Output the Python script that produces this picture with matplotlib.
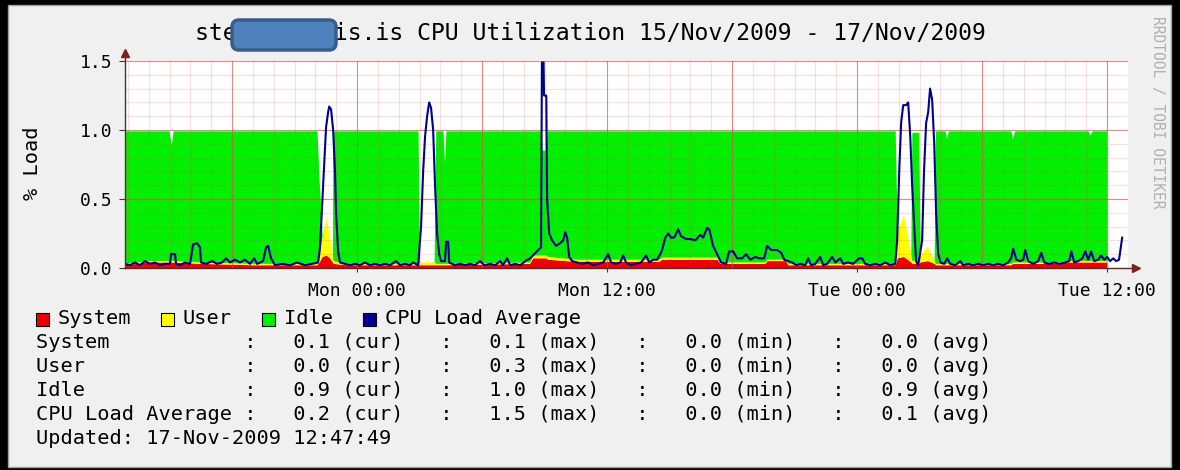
import numpy as np
import matplotlib.pyplot as plt
from matplotlib.patches import Rectangle, FancyBboxPatch
from matplotlib.transforms import IdentityTransform

plt.rcParams['font.family'] = ['DejaVu Sans Mono']

W, H = 1180, 470

# время в часах от Mon 00:00 (15/Nov -> 17/Nov 2009)
# (час, system, user, idle)
stack_pts = [
    (-11.14, 0.02, 0.01, 0.96), (-10.0, 0.04, 0.01, 0.94), (-9.0, 0.04, 0.01, 0.94),
    (-8.9, 0.04, 0.01, 0.84), (-8.8, 0.04, 0.01, 0.94), (-7.5, 0.03, 0.01, 0.95),
    (-5.0, 0.02, 0.01, 0.96), (-1.9, 0.02, 0.01, 0.96), (-1.8, 0.04, 0.05, 0.55),
    (-1.65, 0.08, 0.15, 0.0), (-1.45, 0.09, 0.28, 0.0), (-1.3, 0.07, 0.15, 0.0),
    (-1.16, 0.04, 0.04, 0.0), (-1.14, 0.03, 0.02, 0.94), (-0.5, 0.02, 0.01, 0.96),
    (2.95, 0.02, 0.01, 0.96), (3.02, 0.02, 0.02, 0.0), (3.72, 0.02, 0.02, 0.0),
    (3.8, 0.02, 0.01, 0.96), (4.15, 0.02, 0.01, 0.96), (4.22, 0.02, 0.01, 0.73),
    (4.29, 0.02, 0.01, 0.96), (8.3, 0.03, 0.01, 0.95), (8.45, 0.07, 0.02, 0.90),
    (8.85, 0.07, 0.02, 0.90), (8.9, 0.07, 0.02, 0.76), (9.1, 0.07, 0.02, 0.76),
    (9.15, 0.06, 0.02, 0.91), (10.5, 0.045, 0.015, 0.93),
    (14.5, 0.045, 0.015, 0.93), (14.65, 0.06, 0.015, 0.915), (17.3, 0.06, 0.015, 0.915),
    (17.45, 0.03, 0.01, 0.95), (19.6, 0.03, 0.01, 0.95), (19.7, 0.05, 0.01, 0.93),
    (20.6, 0.05, 0.01, 0.93), (20.7, 0.02, 0.01, 0.96), (25.85, 0.02, 0.01, 0.96),
    (25.95, 0.07, 0.2, 0.0), (26.25, 0.08, 0.3, 0.0), (26.6, 0.04, 0.06, 0.0),
    (26.65, 0.03, 0.02, 0.93), (26.98, 0.03, 0.02, 0.93), (27.05, 0.04, 0.06, 0.0),
    (27.4, 0.05, 0.1, 0.0), (27.72, 0.03, 0.02, 0.0), (27.78, 0.02, 0.01, 0.96),
    (28.25, 0.02, 0.01, 0.96), (28.32, 0.02, 0.01, 0.9), (28.4, 0.02, 0.01, 0.96),
    (31.4, 0.02, 0.01, 0.96), (31.49, 0.03, 0.01, 0.89), (31.58, 0.03, 0.01, 0.95),
    (33.5, 0.03, 0.01, 0.95), (34.2, 0.04, 0.01, 0.94), (35.1, 0.04, 0.01, 0.94),
    (35.2, 0.04, 0.01, 0.91), (35.3, 0.04, 0.01, 0.94), (36.0, 0.04, 0.01, 0.94),
]

# (час, CPU load average)
load_pts = [
    (-11.14, 0.03), (-10.9, 0.02), (-10.66, 0.04), (-10.42, 0.02), (-10.18, 0.05),
    (-9.94, 0.03), (-9.7, 0.04), (-9.46, 0.02), (-9.22, 0.03), (-8.98, 0.03),
    (-8.93, 0.10), (-8.74, 0.10), (-8.69, 0.03), (-8.5, 0.02), (-8.26, 0.04),
    (-8.02, 0.03), (-7.87, 0.17), (-7.68, 0.18), (-7.54, 0.15), (-7.49, 0.04),
    (-7.25, 0.03), (-6.96, 0.05), (-6.72, 0.03), (-6.48, 0.04), (-6.29, 0.07),
    (-6.1, 0.04), (-5.86, 0.06), (-5.62, 0.04), (-5.38, 0.06), (-5.14, 0.03),
    (-4.94, 0.07), (-4.8, 0.03), (-4.51, 0.05), (-4.37, 0.15), (-4.27, 0.16),
    (-4.13, 0.07), (-3.94, 0.02), (-3.6, 0.03), (-3.22, 0.02), (-2.88, 0.04),
    (-2.5, 0.02), (-2.16, 0.03), (-1.87, 0.04),
    (-1.78, 0.15), (-1.68, 0.45), (-1.58, 0.75), (-1.49, 1.02), (-1.39, 1.13),
    (-1.34, 1.17), (-1.25, 1.15), (-1.15, 1.0), (-1.06, 0.7), (-1.01, 0.4),
    (-0.91, 0.12), (-0.82, 0.04),
    (-0.58, 0.03), (-0.34, 0.02), (-0.1, 0.03), (0.14, 0.02), (0.38, 0.04),
    (0.62, 0.02), (0.86, 0.03), (1.1, 0.02), (1.34, 0.03), (1.58, 0.02),
    (1.87, 0.05), (2.06, 0.02), (2.3, 0.03), (2.54, 0.02), (2.69, 0.04), (2.93, 0.02),
    (3.07, 0.3), (3.17, 0.7), (3.26, 0.95), (3.36, 1.1), (3.46, 1.2), (3.55, 1.16),
    (3.65, 1.0), (3.74, 0.6), (3.84, 0.25), (3.94, 0.1), (4.03, 0.05), (4.22, 0.05),
    (4.27, 0.19), (4.37, 0.19), (4.42, 0.04),
    (4.7, 0.02), (4.94, 0.03), (5.18, 0.02), (5.42, 0.03), (5.66, 0.02), (5.9, 0.05),
    (6.1, 0.02), (6.39, 0.03), (6.62, 0.02), (6.87, 0.05), (7.0, 0.02), (7.2, 0.07),
    (7.35, 0.02), (7.59, 0.03), (7.83, 0.02), (8.07, 0.05), (8.31, 0.07), (8.5, 0.10),
    (8.69, 0.13), (8.83, 0.15),
    (8.87, 1.49), (8.95, 1.49), (8.97, 1.25), (9.08, 1.25), (9.12, 0.5), (9.22, 0.25),
    (9.36, 0.2), (9.55, 0.16), (9.75, 0.18), (9.89, 0.2), (9.99, 0.26), (10.08, 0.22),
    (10.18, 0.08), (10.32, 0.05),
    (10.56, 0.04), (10.8, 0.03), (11.09, 0.04), (11.33, 0.02), (11.57, 0.03),
    (11.81, 0.04), (12.05, 0.10), (12.19, 0.04), (12.43, 0.03), (12.63, 0.04),
    (12.77, 0.09), (12.91, 0.04), (13.15, 0.02), (13.39, 0.03), (13.63, 0.04),
    (13.87, 0.09), (14.02, 0.04), (14.21, 0.06), (14.4, 0.06), (14.55, 0.10),
    (14.64, 0.13), (14.79, 0.22), (14.93, 0.25), (15.07, 0.22), (15.22, 0.22),
    (15.41, 0.28), (15.55, 0.23), (15.79, 0.21), (15.99, 0.21), (16.23, 0.20),
    (16.47, 0.24), (16.61, 0.22), (16.8, 0.29), (16.9, 0.28), (17.09, 0.16),
    (17.28, 0.10), (17.47, 0.04),
    (17.71, 0.03), (17.86, 0.12), (18.05, 0.12), (18.24, 0.07), (18.48, 0.07),
    (18.67, 0.10), (18.87, 0.06), (19.11, 0.08), (19.3, 0.07), (19.54, 0.07),
    (19.68, 0.16), (19.88, 0.13), (20.16, 0.13), (20.36, 0.11), (20.5, 0.06),
    (20.69, 0.05), (20.88, 0.04), (21.08, 0.02), (21.27, 0.03), (21.51, 0.02),
    (21.65, 0.07), (21.79, 0.02), (21.99, 0.03), (22.23, 0.08), (22.37, 0.02),
    (22.56, 0.03), (22.8, 0.08), (22.95, 0.04), (23.19, 0.07), (23.33, 0.03),
    (23.57, 0.04), (23.81, 0.03), (24.1, 0.07), (24.24, 0.07), (24.39, 0.03),
    (24.63, 0.02), (24.87, 0.03), (25.11, 0.02), (25.35, 0.04), (25.59, 0.02),
    (25.83, 0.03),
    (25.92, 0.2), (26.02, 0.7), (26.11, 1.05), (26.21, 1.18), (26.35, 1.18),
    (26.45, 1.2), (26.55, 0.95), (26.64, 0.6), (26.74, 0.3), (26.83, 0.05),
    (26.93, 0.02),
    (27.12, 0.2), (27.21, 0.7), (27.31, 1.05), (27.41, 1.13), (27.5, 1.3),
    (27.6, 1.22), (27.7, 0.9), (27.79, 0.4), (27.89, 0.1), (28.0, 0.04),
    (28.18, 0.03), (28.32, 0.07), (28.47, 0.03), (28.71, 0.02), (28.95, 0.05),
    (29.09, 0.02), (29.33, 0.03), (29.57, 0.02), (29.81, 0.03), (30.05, 0.02),
    (30.29, 0.03), (30.53, 0.02), (30.77, 0.03), (31.01, 0.02), (31.25, 0.04),
    (31.39, 0.07), (31.49, 0.14), (31.64, 0.06), (31.83, 0.05), (31.97, 0.06),
    (32.07, 0.13), (32.21, 0.05), (32.45, 0.03), (32.69, 0.05), (32.84, 0.11),
    (32.98, 0.04), (33.22, 0.03), (33.46, 0.04), (33.7, 0.03), (33.99, 0.04),
    (34.18, 0.05), (34.28, 0.12), (34.42, 0.04), (34.61, 0.05), (34.81, 0.07),
    (34.95, 0.12), (35.09, 0.06), (35.23, 0.12), (35.38, 0.05), (35.57, 0.06),
    (35.71, 0.09), (35.86, 0.06), (36.0, 0.08), (36.14, 0.05), (36.29, 0.07),
    (36.43, 0.05), (36.57, 0.06), (36.72, 0.22),
]

tick_hours = [0, 12, 24, 36]
tick_labels = ['Mon 00:00', 'Mon 12:00', 'Tue 00:00', 'Tue 12:00']
y_ticks = [0.0, 0.5, 1.0, 1.5]

legend_names = ['System', 'User', 'Idle', 'CPU Load Average']
legend_colors = ['#EE0000', '#FFFF00', '#00F000', '#000090']
stat_cur = ['0.1', '0.0', '0.9', '0.2']
stat_max = ['0.1', '0.3', '1.0', '1.5']
stat_min = ['0.0', '0.0', '0.0', '0.0']
stat_avg = ['0.0', '0.0', '0.9', '0.1']
updated = 'Updated: 17-Nov-2009 12:47:49'

t_stack, system, user, idle = np.array(stack_pts).T
t_load, load = np.array(load_pts).T


def fx(x):
    return x / W


def fy(y):
    return 1 - y / H


fig = plt.figure(figsize=(W / 100, H / 100), dpi=100, facecolor='black')

# серая подложка как у rrdtool (под осями)
fig.add_artist(Rectangle((8, 3), 1163, 462, transform=IdentityTransform(),
                         facecolor='#F0F0F0', edgecolor='#A0A0A0', lw=1.0, zorder=-10))

x0, x1 = -11.14, 37.0
ax = fig.add_axes([fx(125), fy(268), fx(1128) - fx(125), fy(61) - fy(268)])
ax.set_xlim(x0, x1)
ax.set_ylim(0, 1.5)
ax.set_facecolor('white')

ax.stackplot(t_stack, system, user, idle, colors=legend_colors[:3], lw=0, zorder=2)

# сетка поверх заливки
for h in np.arange(-11, 37, 1):
    ax.axvline(h, color=(0.87, 0.31, 0.31, 0.18), lw=0.8, zorder=3)
for v in np.arange(0.1, 1.55, 0.1):
    ax.axhline(v, color=(0.87, 0.31, 0.31, 0.18), lw=0.8, zorder=3)
for h in np.arange(-6, 37, 6):
    ax.axvline(h, color=(0.87, 0.31, 0.31, 0.6), lw=0.8, zorder=3)
for v in [0.5, 1.0, 1.5]:
    ax.axhline(v, color=(0.87, 0.31, 0.31, 0.6), lw=0.8, zorder=3)

ax.plot(t_load, load, color=legend_colors[3], lw=1.5, zorder=5)

for s in ax.spines.values():
    s.set_visible(False)

axis_col = '#5A2A2A'
arrow_col = '#7F1F1F'
ax.plot([x0, x0], [0, 1.555], color=axis_col, lw=1.0, clip_on=False, zorder=6)
ax.plot([x0, 37.4], [0, 0], color=axis_col, lw=1.0, clip_on=False, zorder=6)
ax.plot([x0], [1.555], marker='^', ms=6, color=arrow_col, clip_on=False, zorder=7)
ax.plot([37.4], [0], marker='>', ms=6, color=arrow_col, clip_on=False, zorder=7)

ax.set_xticks(tick_hours)
ax.set_xticklabels(tick_labels)
ax.set_yticks(y_ticks)
ax.set_yticklabels([f'{v:.1f}' for v in y_ticks])
ax.tick_params(axis='y', length=4, width=0.8, color=axis_col, pad=5, labelsize=13)
ax.tick_params(axis='x', length=3, width=0.8, color=axis_col, pad=7, labelsize=13)

# заголовок (часть имени хоста закрыта)
fig.text(fx(195), fy(33), 'ste       is.is CPU Utilization 15/Nov/2009 - 17/Nov/2009',
         ha='left', va='center', fontsize=16.7)
fig.add_artist(FancyBboxPatch((232, 420), 104, 30, boxstyle='round,pad=0,rounding_size=7',
                              transform=IdentityTransform(), facecolor='#4F81BD',
                              edgecolor='#385D8A', lw=2.5, zorder=10))

fig.text(fx(33), fy(163), '% Load', rotation=90, ha='center', va='center', fontsize=14.6)
fig.text(fx(1157), fy(16), 'RRDTOOL / TOBI OETIKER', rotation=270, ha='center', va='top',
         fontsize=10.5, color='#B0B0B0')

# легенда
sq_x = [36, 161, 262, 363]
for x, name, col in zip(sq_x, legend_names, legend_colors):
    fig.add_artist(Rectangle((x, H - 325.5), 13, 13, transform=IdentityTransform(),
                             facecolor=col, edgecolor='black', lw=0.8))
    fig.text(fx(x + 22), fy(319), name, ha='left', va='center', fontsize=14.6)

rows_y = [343, 367, 391, 415]
for y, name, c, mx, mn, av in zip(rows_y, legend_names, stat_cur, stat_max, stat_min, stat_avg):
    line = f'{name:<17}:   {c} (cur)   :   {mx} (max)   :   {mn} (min)   :   {av} (avg)'
    fig.text(fx(36), fy(y), line, ha='left', va='center', fontsize=14.6)
fig.text(fx(36), fy(439), updated, ha='left', va='center', fontsize=14.6)

fig.savefig('out.png', dpi=100, facecolor='black')
